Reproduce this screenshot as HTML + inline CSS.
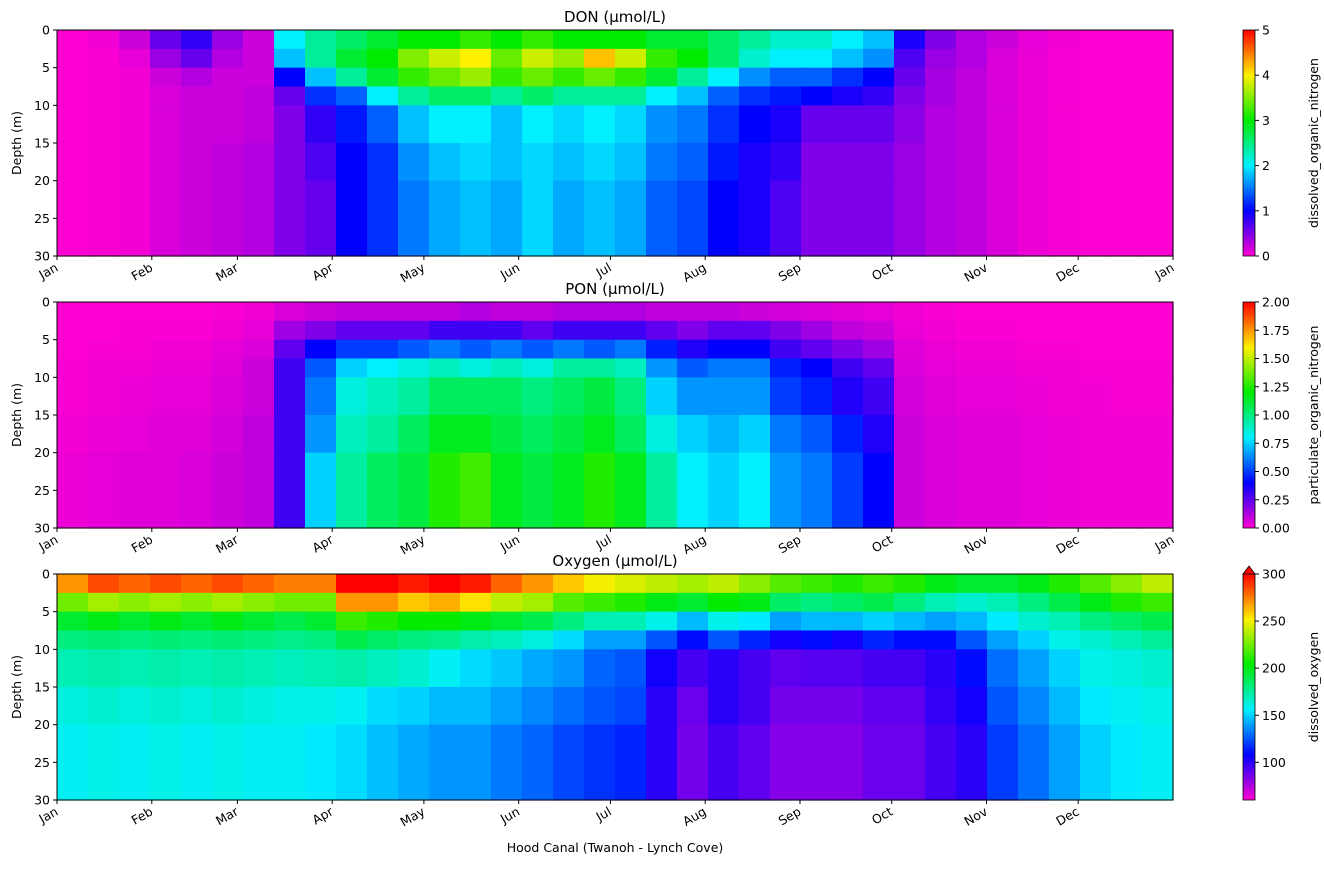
<!DOCTYPE html>
<html><head><meta charset="utf-8"><style>
body{margin:0;background:#fff;font-family:"DejaVu Sans","Liberation Sans",sans-serif;}
svg text{font-family:"DejaVu Sans","Liberation Sans",sans-serif;fill:#000}
</style></head><body>
<svg id="fig" width="1324" height="866"></svg>
<script>
const months=["Jan","Feb","Mar","Apr","May","Jun","Jul","Aug","Sep","Oct","Nov","Dec","Jan"];
const monthDays=[0,31,59,90,120,151,181,212,243,273,304,334,365];
const depthEdges=[0,2.5,5,7.5,10,15,20,30];
const depthTicks=[0,5,10,15,20,25,30];
const nCols=36;
const donData=[
[.0,.05,.2,.6,.8,.4,.2,2.0,2.4,2.6,2.8,3.0,3.0,3.2,3.0,3.2,3.0,3.0,3.0,2.8,2.8,2.6,2.4,2.2,2.2,2.0,1.8,.9,.5,.3,.2,.1,.05,.0,.0,.0],
[.0,.02,.1,.4,.6,.3,.2,1.8,2.4,2.8,3.0,3.5,3.8,4.0,3.4,3.8,3.6,4.2,3.8,3.2,3.0,2.6,2.2,2.0,2.0,1.8,1.6,.7,.4,.3,.15,.08,.03,.0,.0,.0],
[.0,.02,.05,.2,.3,.2,.2,1.0,1.8,2.4,2.8,3.2,3.4,3.6,3.2,3.4,3.2,3.4,3.2,2.8,2.4,2.0,1.6,1.4,1.4,1.2,1.0,.6,.35,.25,.15,.08,.03,.0,.0,.0],
[.0,.02,.05,.15,.2,.2,.25,.6,1.2,1.4,2.0,2.4,2.6,2.6,2.4,2.6,2.4,2.4,2.4,2.0,1.8,1.4,1.2,1.1,1.0,.9,.8,.5,.35,.25,.15,.08,.03,.0,.0,.0],
[.0,.02,.05,.15,.2,.2,.25,.5,.8,1.1,1.4,1.8,2.0,2.0,1.8,2.0,1.9,2.0,1.9,1.6,1.5,1.2,1.0,.9,.6,.6,.6,.45,.3,.25,.15,.08,.03,.0,.0,.0],
[.0,.02,.05,.15,.2,.25,.3,.5,.7,1.0,1.2,1.6,1.8,1.9,1.8,1.9,1.8,1.9,1.8,1.5,1.4,1.1,.9,.8,.5,.5,.5,.4,.3,.25,.15,.08,.03,.0,.0,.0],
[.0,.02,.05,.15,.2,.25,.3,.5,.6,1.0,1.2,1.5,1.7,1.8,1.7,1.9,1.7,1.8,1.7,1.4,1.3,1.0,.9,.7,.5,.5,.5,.4,.3,.25,.15,.08,.03,.0,.0,.0]];
const ponData=[
[.0,.0,.0,.0,.0,.01,.02,.06,.08,.1,.1,.1,.1,.12,.1,.1,.12,.12,.12,.1,.1,.1,.08,.07,.06,.05,.04,.02,.01,.0,.0,.0,.0,.0,.0,.0],
[.0,.0,.01,.01,.01,.02,.04,.15,.2,.25,.25,.25,.3,.3,.3,.25,.3,.3,.3,.25,.2,.25,.25,.2,.15,.1,.08,.03,.02,.01,.01,.0,.0,.0,.0,.0],
[.0,.01,.01,.02,.02,.04,.06,.25,.4,.5,.5,.55,.6,.55,.6,.55,.6,.55,.6,.45,.35,.4,.4,.3,.25,.2,.15,.05,.03,.02,.02,.01,.01,.0,.0,.0],
[.01,.02,.02,.03,.03,.05,.08,.3,.55,.75,.8,.85,.9,.85,.9,.85,.95,.95,.9,.65,.55,.6,.6,.45,.4,.3,.25,.06,.04,.03,.03,.02,.02,.01,.01,.01],
[.01,.02,.03,.04,.04,.06,.08,.3,.6,.85,.9,.95,1.05,1.05,1.05,1.0,1.05,1.1,1.0,.75,.65,.65,.65,.5,.45,.35,.3,.07,.05,.04,.04,.03,.02,.02,.01,.01],
[.02,.03,.04,.05,.05,.07,.1,.3,.65,.9,.95,1.05,1.15,1.15,1.1,1.05,1.1,1.15,1.05,.85,.75,.7,.75,.6,.55,.45,.35,.08,.06,.05,.05,.04,.03,.02,.02,.02],
[.03,.04,.05,.05,.06,.08,.1,.3,.75,.95,1.05,1.1,1.25,1.3,1.15,1.1,1.15,1.25,1.15,.95,.8,.75,.8,.65,.6,.5,.4,.08,.06,.05,.05,.04,.03,.02,.02,.02]];
const oxyData=[
[270,285,280,285,280,285,280,275,275,300,300,295,300,295,280,270,260,250,245,240,235,240,230,220,215,210,215,210,200,195,195,200,210,220,230,240],
[225,235,230,235,230,235,230,225,225,270,270,260,265,255,240,235,220,215,210,200,195,205,200,185,180,185,190,180,170,165,170,180,190,200,210,215],
[195,200,195,200,195,200,195,190,195,215,210,205,205,200,195,190,180,170,170,160,145,160,155,140,145,145,150,145,140,145,155,165,170,180,185,190],
[180,182,180,182,180,182,180,178,180,190,185,180,178,172,168,162,152,140,140,125,110,125,115,105,110,105,115,110,110,125,140,150,160,165,170,175],
[170,172,170,172,170,172,170,168,170,172,168,165,158,152,148,142,138,128,125,105,95,100,95,90,92,92,95,95,100,110,130,140,150,160,162,165],
[162,165,162,165,162,165,162,160,160,158,152,150,145,145,140,135,130,125,122,100,88,100,95,86,86,86,90,90,98,105,125,135,145,155,158,160],
[158,160,158,160,158,160,158,158,155,152,146,142,138,138,132,128,122,118,115,100,86,95,90,83,83,83,88,88,95,100,120,130,140,150,155,158]];

const NS="http://www.w3.org/2000/svg";
const svg=document.getElementById('fig');
const X0=57,X1=1173;
function xScale(day){return X0+(X1-X0)*day/365;}
const stops=[[0,[255,0,210]],[0.2,[0,0,255]],[0.4,[0,240,255]],[0.6,[0,235,0]],[0.8,[255,240,0]],[1,[255,0,0]]];
function cmap(t){t=Math.max(0,Math.min(1,t));for(let i=1;i<stops.length;i++){if(t<=stops[i][0]){const a=stops[i-1],b=stops[i];const f=(t-a[0])/(b[0]-a[0]);const c=a[1].map((v,k)=>Math.round(v+(b[1][k]-v)*f));return `rgb(${c[0]},${c[1]},${c[2]})`;}}return 'rgb(255,0,0)';}
function el(tag,attrs,parent){const e=document.createElementNS(NS,tag);for(const k in attrs)e.setAttribute(k,attrs[k]);(parent||svg).appendChild(e);return e;}
function txt(s,attrs,parent){const t=el('text',attrs,parent);t.textContent=s;return t;}

const panels=[
{title:"DON (µmol/L)",data:donData,vmin:0,vmax:5,top:30,cbLabel:"dissolved_organic_nitrogen",cbTicks:[0,1,2,3,4,5],fmt:v=>String(v),lastJan:true,name:"don"},
{title:"PON (µmol/L)",data:ponData,vmin:0,vmax:2,top:302,cbLabel:"particulate_organic_nitrogen",cbTicks:[0,0.25,0.5,0.75,1,1.25,1.5,1.75,2],fmt:v=>v.toFixed(2),lastJan:true,name:"pon"},
{title:"Oxygen (µmol/L)",data:oxyData,vmin:60,vmax:300,top:574,cbLabel:"dissolved_oxygen",cbTicks:[100,150,200,250,300],fmt:v=>String(v),lastJan:false,name:"oxygen",extend:true}];
const H=226;

panels.forEach((p,pi)=>{
  const g=el('g',{});
  
  
  const yScale=d=>p.top+H*d/30;
  for(let r=0;r<depthEdges.length-1;r++){
    for(let c=0;c<nCols;c++){
      const x0=xScale(c*365/nCols),x1=xScale((c+1)*365/nCols);
      const v=p.data[r][c];
      const rect=el('rect',{x:x0,y:yScale(depthEdges[r]),width:x1-x0+0.6,height:yScale(depthEdges[r+1])-yScale(depthEdges[r])+0.6,fill:cmap((v-p.vmin)/(p.vmax-p.vmin))},g);
      
      
    }
  }
  el('rect',{x:X0,y:p.top,width:X1-X0,height:H,fill:'none',stroke:'#000','stroke-width':1},g);
  const t=txt(p.title,{x:(X0+X1)/2,y:p.top-8,'text-anchor':'middle','font-size':15},g);
  
  depthTicks.forEach(d=>{
    el('line',{x1:X0-4,x2:X0,y1:yScale(d),y2:yScale(d),stroke:'#000'},g);
    txt(String(d),{x:X0-7,y:yScale(d)+4.5,'text-anchor':'end','font-size':12.5},g);
  });
  const yl=txt('Depth (m)',{x:21,y:p.top+H/2,'text-anchor':'middle','font-size':12.5,transform:`rotate(-90 21 ${p.top+H/2})`},g);
  
  months.forEach((m,i)=>{
    if(i===12&&!p.lastJan)return;
    const x=xScale(monthDays[i]);
    el('line',{x1:x,x2:x,y1:p.top+H,y2:p.top+H+4,stroke:'#000'},g);
    txt(m,{x:x+2,y:p.top+H+14,'text-anchor':'end','font-size':12.5,transform:`rotate(-30 ${x+2} ${p.top+H+14})`},g);
  });
  const cx=1243,cw=12;
  const gid='grad'+pi;
  const defs=el('defs',{},g);
  const lg=el('linearGradient',{id:gid,x1:0,y1:1,x2:0,y2:0},defs);
  stops.forEach(s=>el('stop',{offset:s[0],'stop-color':cmap(s[0])},lg));
  const cb=el('rect',{x:cx,y:p.top,width:cw,height:H,fill:`url(#${gid})`,stroke:'#000','stroke-width':0.8},g);
  
  if(p.extend){el('polygon',{points:`${cx},${p.top} ${cx+cw},${p.top} ${cx+cw/2},${p.top-8}`,fill:'rgb(255,0,0)',stroke:'#000','stroke-width':0.8},g);}
  p.cbTicks.forEach(v=>{
    const y=p.top+H-H*(v-p.vmin)/(p.vmax-p.vmin);
    el('line',{x1:cx+cw,x2:cx+cw+4,y1:y,y2:y,stroke:'#000'},g);
    txt(p.fmt(v),{x:cx+cw+7,y:y+4.5,'font-size':12.5},g);
  });
  const cl=txt(p.cbLabel,{x:1318,y:p.top+H/2,'text-anchor':'middle','font-size':12.5,transform:`rotate(-90 1318 ${p.top+H/2})`},g);
  
});
const xl=txt('Hood Canal (Twanoh - Lynch Cove)',{x:615,y:852,'text-anchor':'middle','font-size':12.5});

</script>
</body></html>
